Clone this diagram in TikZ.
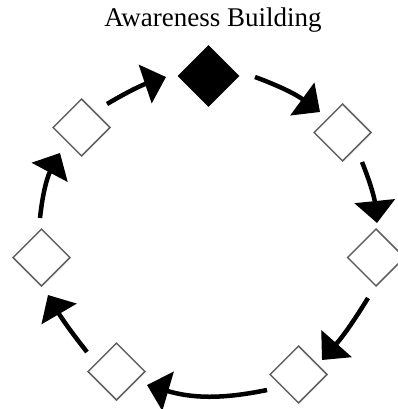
\documentclass[tikz,border=0pt]{standalone}
\usepackage{fontspec}
\setmainfont{Liberation Serif}
\usetikzlibrary{shapes.geometric,arrows.meta,calc}
\begin{document}
\begin{tikzpicture}[x=1pt,y=-1pt,
  dia/.style={diamond,draw=black!62,line width=1.5pt,minimum width=57.5pt,minimum height=57.5pt,inner sep=0pt},
  filleddia/.style={diamond,fill=black,minimum width=62pt,minimum height=62pt,inner sep=0pt},
  arr/.style={line width=4.5pt,-{Triangle[length=22pt,width=40pt]}}]
\useasboundingbox (0,0) rectangle (397,409);
\node[anchor=base,font=\fontsize{27}{31}\selectfont] (title) at (213,27) {Awareness Building};
\node[filleddia] (top) at (208.5,76) {};
\node[dia] (tl) at (81.5,127.5) {};
\node[dia] (tr) at (342.5,132.5) {};
\node[dia] (l) at (41.5,257.5) {};
\node[dia] (r) at (376,257.5) {};
\node[dia] (bl) at (116.5,371.5) {};
\node[dia] (br) at (298.5,374.5) {};
\draw[arr] ($(tl)+(25.5,-23.5)$) to[bend left=6] ($(top)+(-42.5,1)$);
\draw[arr] ($(top)+(46.5,1)$) to[bend left=8] ($(tr)+(-22.5,-20.5)$);
\draw[arr] ($(tr)+(19.5,29.5)$) to[bend left=8] ($(r)+(1,-34.5)$);
\draw[arr] ($(r)+(-8,40.5)$) to[bend left=5] ($(br)+(23.5,-14.5)$);
\draw[arr] ($(br)+(-31.5,15.5)$) to[bend left=14] ($(bl)+(30.5,13.5)$);
\draw[arr] ($(bl)+(-29.5,-19.5)$) to[bend left=4] ($(l)+(6.5,37.5)$);
\draw[arr] ($(l)+(-1.5,-39.5)$) to[bend left=11] ($(tl)+(-21.5,25.5)$);
\end{tikzpicture}
\end{document}
